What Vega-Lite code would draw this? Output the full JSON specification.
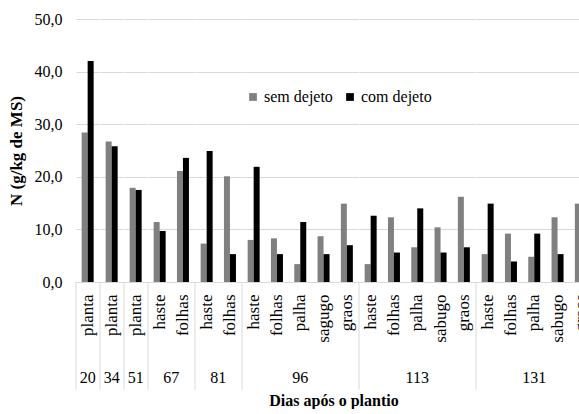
{
  "$schema": "https://vega.github.io/schema/vega-lite/v6.json",
  "background": "white",
  "padding": {"left": 7, "top": 11, "right": 0, "bottom": 0},
  "bounds": "flush",
  "data": {
    "values": [
      {"dia": 20, "parte": "planta", "serie": "sem dejeto", "valor": 28.4},
      {"dia": 20, "parte": "planta", "serie": "com dejeto", "valor": 42.0},
      {"dia": 34, "parte": "planta", "serie": "sem dejeto", "valor": 26.7},
      {"dia": 34, "parte": "planta", "serie": "com dejeto", "valor": 25.8},
      {"dia": 51, "parte": "planta", "serie": "sem dejeto", "valor": 17.9},
      {"dia": 51, "parte": "planta", "serie": "com dejeto", "valor": 17.5},
      {"dia": 67, "parte": "haste", "serie": "sem dejeto", "valor": 11.4},
      {"dia": 67, "parte": "haste", "serie": "com dejeto", "valor": 9.7},
      {"dia": 67, "parte": "folhas", "serie": "sem dejeto", "valor": 21.1},
      {"dia": 67, "parte": "folhas", "serie": "com dejeto", "valor": 23.6},
      {"dia": 81, "parte": "haste", "serie": "sem dejeto", "valor": 7.3},
      {"dia": 81, "parte": "haste", "serie": "com dejeto", "valor": 24.9},
      {"dia": 81, "parte": "folhas", "serie": "sem dejeto", "valor": 20.1},
      {"dia": 81, "parte": "folhas", "serie": "com dejeto", "valor": 5.3},
      {"dia": 96, "parte": "haste", "serie": "sem dejeto", "valor": 8.0},
      {"dia": 96, "parte": "haste", "serie": "com dejeto", "valor": 21.9},
      {"dia": 96, "parte": "folhas", "serie": "sem dejeto", "valor": 8.3},
      {"dia": 96, "parte": "folhas", "serie": "com dejeto", "valor": 5.3},
      {"dia": 96, "parte": "palha", "serie": "sem dejeto", "valor": 3.4},
      {"dia": 96, "parte": "palha", "serie": "com dejeto", "valor": 11.4},
      {"dia": 96, "parte": "sagugo", "serie": "sem dejeto", "valor": 8.7},
      {"dia": 96, "parte": "sagugo", "serie": "com dejeto", "valor": 5.3},
      {"dia": 96, "parte": "graos", "serie": "sem dejeto", "valor": 14.9},
      {"dia": 96, "parte": "graos", "serie": "com dejeto", "valor": 7.0},
      {"dia": 113, "parte": "haste", "serie": "sem dejeto", "valor": 3.4},
      {"dia": 113, "parte": "haste", "serie": "com dejeto", "valor": 12.6},
      {"dia": 113, "parte": "folhas", "serie": "sem dejeto", "valor": 12.3},
      {"dia": 113, "parte": "folhas", "serie": "com dejeto", "valor": 5.6},
      {"dia": 113, "parte": "palha", "serie": "sem dejeto", "valor": 6.6},
      {"dia": 113, "parte": "palha", "serie": "com dejeto", "valor": 14.0},
      {"dia": 113, "parte": "sabugo", "serie": "sem dejeto", "valor": 10.4},
      {"dia": 113, "parte": "sabugo", "serie": "com dejeto", "valor": 5.6},
      {"dia": 113, "parte": "graos", "serie": "sem dejeto", "valor": 16.2},
      {"dia": 113, "parte": "graos", "serie": "com dejeto", "valor": 6.6},
      {"dia": 131, "parte": "haste", "serie": "sem dejeto", "valor": 5.3},
      {"dia": 131, "parte": "haste", "serie": "com dejeto", "valor": 14.9},
      {"dia": 131, "parte": "folhas", "serie": "sem dejeto", "valor": 9.2},
      {"dia": 131, "parte": "folhas", "serie": "com dejeto", "valor": 3.9},
      {"dia": 131, "parte": "palha", "serie": "sem dejeto", "valor": 4.8},
      {"dia": 131, "parte": "palha", "serie": "com dejeto", "valor": 9.2},
      {"dia": 131, "parte": "sabugo", "serie": "sem dejeto", "valor": 12.3},
      {"dia": 131, "parte": "sabugo", "serie": "com dejeto", "valor": 5.3},
      {"dia": 131, "parte": "graos", "serie": "sem dejeto", "valor": 14.9},
      {"dia": 131, "parte": "graos", "serie": "com dejeto", "valor": 13.5}
    ]
  },
  "facet": {
    "column": {
      "field": "dia",
      "type": "ordinal",
      "sort": "ascending",
      "header": {
        "labelOrient": "bottom",
        "titleOrient": "bottom",
        "title": "Dias após o plantio",
        "labelFont": "Liberation Serif, Times New Roman, serif",
        "labelFontSize": 16,
        "labelColor": "#000000",
        "labelPadding": 88,
        "titleFont": "Liberation Serif, Times New Roman, serif",
        "titleFontSize": 16,
        "titleFontWeight": "bold",
        "titleColor": "#000000",
        "titlePadding": -3
      }
    }
  },
  "spacing": 0,
  "resolve": {"scale": {"x": "independent"}},
  "spec": {
    "width": {"step": 6},
    "height": 263,
    "layer": [
      {
        "mark": {"type": "bar"},
        "encoding": {
          "x": {
            "field": "parte",
            "type": "nominal",
            "sort": null,
            "title": null,
            "scale": {"paddingInner": 0, "paddingOuter": 0},
            "axis": {
              "labelAngle": -90,
              "labelPadding": 12,
              "ticks": false,
              "domainColor": "#d9d9d9",
              "labelFont": "Liberation Serif, Times New Roman, serif",
              "labelFontSize": 17,
              "labelColor": "#000000"
            }
          },
          "xOffset": {
            "field": "serie",
            "type": "nominal",
            "sort": ["sem dejeto", "com dejeto"],
            "scale": {"paddingInner": 0, "paddingOuter": 0.9417}
          },
          "y": {
            "field": "valor",
            "type": "quantitative",
            "title": "N (g/kg de MS)",
            "scale": {"domain": [0, 50], "nice": false},
            "axis": {
              "values": [0, 10, 20, 30, 40, 50],
              "labelExpr": "replace(format(datum.value, '.1f'), '.', ',')",
              "domain": false,
              "ticks": false,
              "gridColor": "#d9d9d9",
              "labelPadding": 14,
              "labelFont": "Liberation Serif, Times New Roman, serif",
              "labelFontSize": 16,
              "labelColor": "#000000",
              "titleFont": "Liberation Serif, Times New Roman, serif",
              "titleFontSize": 17,
              "titleFontWeight": "bold",
              "titleColor": "#000000",
              "titlePadding": 9
            }
          },
          "color": {
            "field": "serie",
            "type": "nominal",
            "scale": {"domain": ["sem dejeto", "com dejeto"], "range": ["#808080", "#000000"]},
            "legend": {
              "title": null,
              "orient": "none",
              "direction": "horizontal",
              "legendX": 169,
              "legendY": 70,
              "symbolType": "square",
              "symbolSize": 60,
              "symbolStrokeWidth": 0,
              "labelFont": "Liberation Serif, Times New Roman, serif",
              "labelFontSize": 16,
              "labelColor": "#000000",
              "labelOffset": 3,
              "columnPadding": 9
            }
          }
        }
      },
      {
        "transform": [
          {"filter": "datum.serie == 'sem dejeto' && (datum.parte == 'planta' || datum.parte == 'haste')"}
        ],
        "mark": {"type": "rule", "color": "#d9d9d9", "strokeWidth": 1},
        "encoding": {
          "x": {"field": "parte", "type": "nominal", "sort": null, "bandPosition": 0},
          "y": {"datum": 0, "scale": {"domain": [0, 50], "nice": false}},
          "y2": {"datum": -20.5}
        }
      }
    ]
  },
  "config": {
    "font": "Liberation Serif, Times New Roman, serif",
    "view": {"stroke": null}
  }
}
